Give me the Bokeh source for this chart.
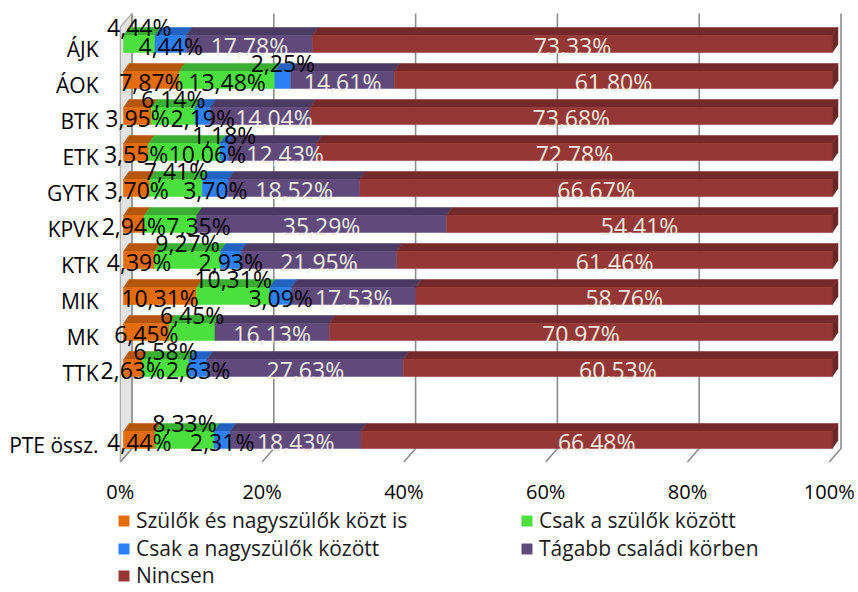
from bokeh.plotting import figure
from bokeh.models import (ColumnDataSource, Range1d, LinearAxis, FixedTicker,
                          Legend, LegendItem)
from bokeh.core.properties import value
from bokeh.embed import file_html
from bokeh.resources import INLINE

# ---------------- data ----------------
categories = ["ÁJK", "ÁOK", "BTK", "ETK", "GYTK", "KPVK", "KTK", "MIK", "MK", "TTK", "PTE össz."]
series_names = ["Szülők és nagyszülők közt is", "Csak a szülők között",
                "Csak a nagyszülők között", "Tágabb családi körben", "Nincsen"]
szulok_es_nagyszulok = [0.00, 7.87, 3.95, 3.55, 3.70, 2.94, 4.39, 10.31, 6.45, 2.63, 4.44]
csak_szulok = [4.44, 13.48, 6.14, 10.06, 7.41, 7.35, 9.27, 10.31, 6.45, 6.58, 8.33]
csak_nagyszulok = [4.44, 2.25, 2.19, 1.18, 3.70, 0.00, 2.93, 3.09, 0.00, 2.63, 2.31]
tagabb = [17.78, 14.61, 14.04, 12.43, 18.52, 35.29, 21.95, 17.53, 16.13, 27.63, 18.43]
nincsen = [73.33, 61.80, 73.68, 72.78, 66.67, 54.41, 61.46, 58.76, 70.97, 60.53, 66.48]
series_values = [szulok_es_nagyszulok, csak_szulok, csak_nagyszulok, tagabb, nincsen]
tick_values = [0, 20, 40, 60, 80, 100]
tick_labels = ["0%", "20%", "40%", "60%", "80%", "100%"]
# labels lifted above the bar (category -> series index)
lifted_labels = {"ÁJK": [1], "ÁOK": [2], "BTK": [1], "ETK": [2], "GYTK": [1],
                 "KTK": [1], "MIK": [1], "MK": [1], "TTK": [1], "PTE össz.": [1]}

# ---------------- style ----------------
front_colors = ["#E46C0A", "#4BE03D", "#2C7FF5", "#604A7B", "#953735"]
top_colors = ["#B5560A", "#3AAE30", "#2262C0", "#4B3A61", "#76292A"]
end_color = "#6A2725"
label_colors = ["#000000", "#000000", "#000000", "#EEECE1", "#EEECE1"]
FONT = "Open Sans"
LABEL_PX = 23
PX_PER_UNIT = 7.09      # horizontal pixels per percent

# category positions (one empty slot before the summary row)
n_fac = len(categories) - 1
y_pos = [n_fac + 1 - i for i in range(n_fac)] + [0]

# 3D geometry (data units)
H = 0.236       # half height of the front face
DX = 0.78       # bar depth, x
DY = 0.222      # bar depth, y
BX = 1.2        # back wall offset, x
FX = -0.45      # floor front offset, x
TOP_Y = 11.85
BACK_FLOOR_Y = -0.236
FRONT_FLOOR_Y = -0.61

X0, X1 = -5.36, 103.67
Y0, Y1 = -4.236, 12.208

p = figure(frame_width=773, frame_height=592,
           x_range=Range1d(X0, X1), y_range=Range1d(Y0, Y1),
           output_backend="svg", toolbar_location=None,
           x_axis_location=None, y_axis_location=None,
           min_border_left=85, min_border_right=0,
           min_border_top=0, min_border_bottom=0)
p.outline_line_color = None
p.background_fill_color = "white"
p.xgrid.grid_line_color = None
p.ygrid.grid_line_color = None

# axes (shifted ranges so labels sit under the floor front / category centre)
p.extra_x_ranges = {"ticks": Range1d(X0 - FX, X1 - FX)}
p.extra_y_ranges = {"cats": Range1d(Y0 + 0.14, Y1 + 0.14)}

xaxis = LinearAxis(x_range_name="ticks", ticker=FixedTicker(ticks=tick_values),
                   fixed_location=FRONT_FLOOR_Y,
                   major_label_overrides={t: l for t, l in zip(tick_values, tick_labels)},
                   axis_line_color=None, major_tick_line_color=None,
                   minor_tick_line_color=None, major_tick_in=0, major_tick_out=0,
                   minor_tick_in=0, minor_tick_out=0,
                   major_label_text_font=FONT, major_label_text_font_size="20px",
                   major_label_text_color="#000000", major_label_standoff=16)
p.add_layout(xaxis, "below")

yaxis = LinearAxis(y_range_name="cats", ticker=FixedTicker(ticks=y_pos),
                   major_label_overrides={y: c for y, c in zip(y_pos, categories)},
                   axis_line_color=None, major_tick_line_color=None,
                   minor_tick_line_color=None, major_tick_in=0, major_tick_out=0,
                   minor_tick_in=0, minor_tick_out=0,
                   major_label_text_font=FONT, major_label_text_font_size="21px",
                   major_label_text_color="#000000", major_label_standoff=-13)
p.add_layout(yaxis, "left")

# back wall (left side)
p.patch([FX, FX, BX, BX],
        [FRONT_FLOOR_Y, TOP_Y - (BACK_FLOOR_Y - FRONT_FLOOR_Y), TOP_Y, BACK_FLOOR_Y],
        fill_color="#E3E3E3", line_color="#A6A6A6", line_width=1.2)

# gridlines: back wall + floor diagonal
p.multi_line([[t + BX, t + BX, t + FX] for t in tick_values],
             [[TOP_Y, BACK_FLOOR_Y, FRONT_FLOOR_Y] for _ in tick_values],
             line_color="#8C8C8C", line_width=1.6)


def label_width(txt):
    # rough pixel width of a label, converted to data units
    px = sum(6 if ch == "," else 19 if ch == "%" else 13.2 for ch in txt)
    return px / PX_PER_UNIT


# bars
fronts = []
lefts = [0.0] * len(categories)
labels = []  # (row, level, centre, text, colour)
for j, vals in enumerate(series_values):
    L, R, Yc, tx, ty = [], [], [], [], []
    for i, v in enumerate(vals):
        l = lefts[i]
        r = l + v
        lefts[i] = r
        if v <= 0:
            continue
        L.append(l); R.append(r); Yc.append(y_pos[i])
        tx.append([l, r, r + DX, l + DX])
        ty.append([y_pos[i] + H, y_pos[i] + H, y_pos[i] + H + DY, y_pos[i] + H + DY])
        lifted = j in lifted_labels.get(categories[i], [])
        labels.append((i, lifted, (l + r) / 2, f"{v:.2f}".replace(".", ",") + "%", label_colors[j]))
    p.patches(tx, ty, fill_color=top_colors[j], line_color=top_colors[j], line_width=0.5)
    src = ColumnDataSource(dict(left=L, right=R, bottom=[y - H for y in Yc], top=[y + H for y in Yc]))
    fr = p.quad(left="left", right="right", bottom="bottom", top="top", source=src,
                fill_color=front_colors[j], line_color=front_colors[j], line_width=0.5)
    fronts.append(fr)
    if j == len(series_values) - 1:
        p.patches([[r, r + DX, r + DX, r] for r in R],
                  [[y - H, y - H + DY, y + H + DY, y + H] for y in Yc],
                  fill_color=end_color, line_color=end_color, line_width=0.5)

# data labels: centred on their segment, pushed right when they would overlap
lab_x, lab_y, lab_t, lab_c = [], [], [], []
last_right = {}
for i, lifted, cx, txt, col in labels:
    w = label_width(txt)
    key = (i, lifted)
    if key in last_right:
        cx = max(cx, last_right[key] + w / 2)
    last_right[key] = cx + w / 2
    lab_x.append(cx)
    lab_y.append(y_pos[i] + 0.47 if lifted else y_pos[i] - 0.055)
    lab_t.append(txt)
    lab_c.append(col)

lab_src = ColumnDataSource(dict(x=lab_x, y=lab_y, text=lab_t, color=lab_c))
p.text(x="x", y="y", text="text", source=lab_src, text_color="color",
       text_font=value(FONT), text_font_size=f"{LABEL_PX}px",
       text_align="center", text_baseline="middle")

# legend: three rows of two columns
rows = [(0, 1), (2, 3), (4,)]
row_offsets = [58, 30, 3]
for row, vy in zip(rows, row_offsets):
    leg = Legend(items=[LegendItem(label=series_names[k], renderers=[fronts[k]]) for k in row],
                 orientation="horizontal", location=(32, vy),
                 label_text_font=FONT, label_text_font_size="21px",
                 label_text_color="#1A1A1A", label_height=18,
                 glyph_width=13, glyph_height=13, label_standoff=6,
                 label_width=384, spacing=0, padding=0, margin=0,
                 border_line_color=None, background_fill_alpha=0)
    p.add_layout(leg, "center")

open("out.html", "w").write(file_html(p, INLINE))
